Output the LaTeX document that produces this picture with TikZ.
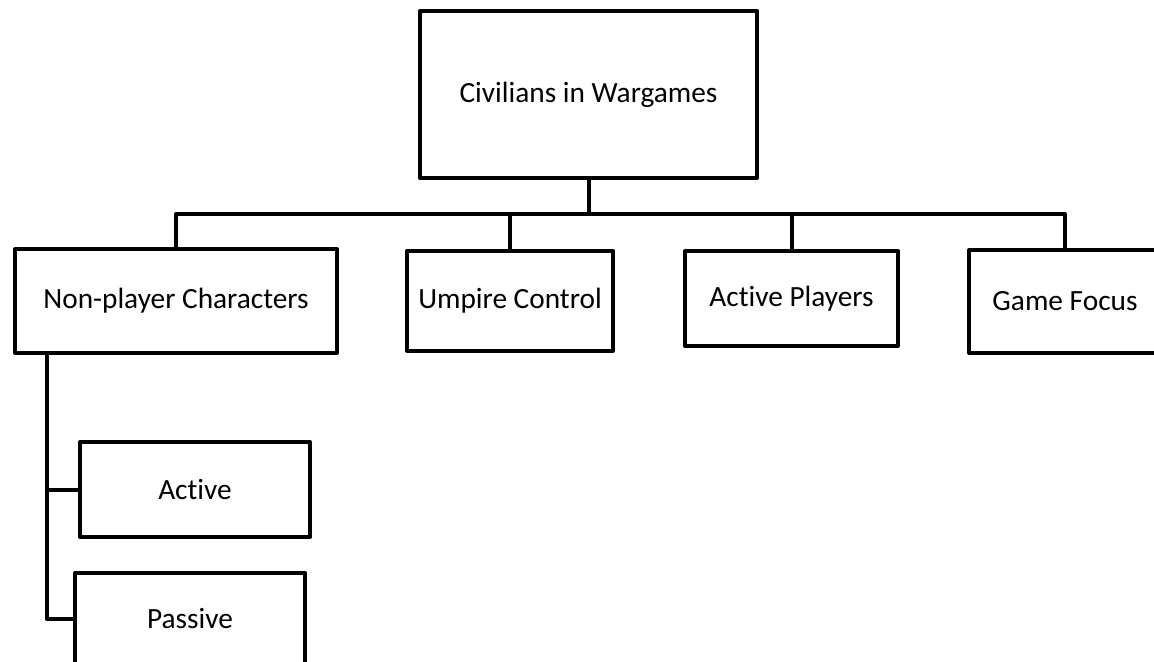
\documentclass[tikz,border=0pt]{standalone}
\usepackage{fontspec}
\setmainfont{Carlito}[Ligatures=NoCommon]
\begin{document}
\begin{tikzpicture}[x=0.75pt,y=-0.75pt,
  box/.style={draw=black, line width=3pt, fill=white, line join=round, inner sep=0pt, font=\fontsize{22}{26}\selectfont},
  link/.style={draw=black, line width=3pt, line join=round, line cap=rect}]
\clip (0,0) rectangle (1154,661);
\fill[white] (0,0) rectangle (1154,661);
% nodes
\node[box, minimum width=252.75pt, minimum height=125.25pt] (top) at (588.5,94.5) {Civilians in Wargames};
\node[box, minimum width=241.5pt, minimum height=78pt] (npc) at (176,301) {Non-player Characters};
\node[box, minimum width=154.5pt, minimum height=75pt] (ump) at (510,301) {Umpire Control};
\node[box, minimum width=159.75pt, minimum height=71.25pt] (ap) at (791.5,298.5) {Active Players};
\node[box, minimum width=144pt, minimum height=77.25pt] (gf) at (1065,301.5) {Game Focus};
\node[box, minimum width=172.5pt, minimum height=71.25pt] (act) at (195,489.5) {Active};
\node[box, minimum width=172.5pt, minimum height=69pt] (pas) at (190,619) {Passive};
% helper coordinates
\coordinate (bar) at (0,214);
\coordinate (spine) at (47,0);
% connectors
\draw[link] (top.south) -- (top.south |- bar);
\draw[link] (npc.north) |- (gf.north |- bar) -- (gf.north);
\draw[link] (ump.north |- bar) -- (ump.north);
\draw[link] (ap.north |- bar) -- (ap.north);
\draw[link] (npc.south -| spine) |- (pas.west);
\draw[link] (act.west -| spine) -- (act.west);
\end{tikzpicture}
\end{document}
